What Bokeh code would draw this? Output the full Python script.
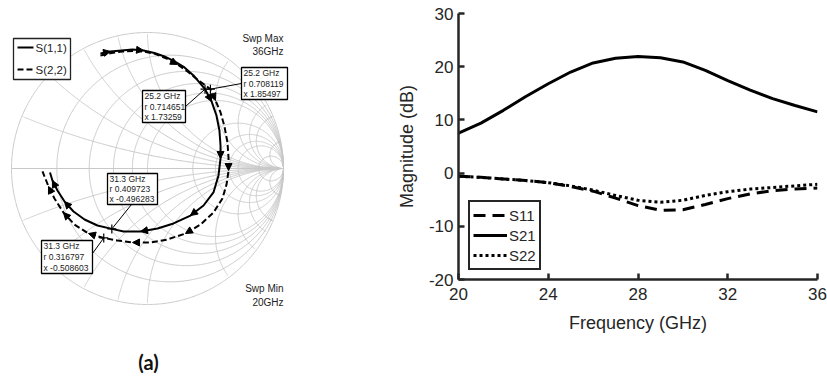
import numpy as np
from bokeh.plotting import figure
from bokeh.layouts import row, column
from bokeh.models import (Range1d, ColumnDataSource, Arrow, NormalHead, Label,
                          Legend, LegendItem, FixedTicker)
from bokeh.core.properties import value
from bokeh.embed import file_html
from bokeh.resources import INLINE

# ---------------- data: Smith chart (reflection coefficient) -------------
s11_freq = [20.0, 20.5, 21.0, 21.5, 22.0, 22.5, 23.0, 23.5, 24.0, 24.6, 25.2,
            25.6, 26.0, 26.4, 26.8, 27.2, 27.7, 28.2, 28.7, 29.2, 29.7, 30.1, 30.5, 30.9, 31.3,
            31.9, 32.6, 33.3, 34.0, 34.7, 35.4, 36.0]
s11_re = [-0.346, -0.272, -0.191, -0.110, -0.029, 0.051, 0.125, 0.199, 0.272, 0.338, 0.423,
          0.471, 0.507, 0.529, 0.537, 0.537, 0.522, 0.485, 0.412, 0.316, 0.191, 0.074, -0.051, -0.176, -0.262,
          -0.368, -0.463, -0.544, -0.610, -0.662, -0.699, -0.717]
s11_im = [0.846, 0.860, 0.868, 0.875, 0.868, 0.849, 0.824, 0.787, 0.743, 0.684, 0.583,
          0.493, 0.390, 0.279, 0.169, 0.074, -0.051, -0.176, -0.272, -0.346, -0.404, -0.441, -0.463, -0.463, -0.444,
          -0.419, -0.375, -0.316, -0.243, -0.162, -0.088, -0.029]

s22_freq = [20.0, 20.5, 21.0, 21.5, 22.0, 22.5, 23.0, 23.5, 24.0, 24.6, 25.2,
            25.6, 26.0, 26.4, 26.7, 27.1, 27.5, 27.9, 28.3, 28.7, 29.0, 29.4, 29.8, 30.2, 30.5, 30.9, 31.3,
            31.9, 32.6, 33.3, 34.0, 34.7, 35.4, 36.0]
s22_re = [-0.346, -0.265, -0.184, -0.103, -0.022, 0.059, 0.140, 0.221, 0.294, 0.368, 0.463,
          0.500, 0.537, 0.566, 0.588, 0.596, 0.596, 0.581, 0.551, 0.485, 0.390, 0.279, 0.147, 0.022, -0.110, -0.221, -0.322,
          -0.434, -0.537, -0.618, -0.684, -0.728, -0.757, -0.772]
s22_im = [0.831, 0.849, 0.860, 0.864, 0.860, 0.842, 0.809, 0.765, 0.713, 0.654, 0.583,
          0.500, 0.412, 0.309, 0.191, 0.074, -0.015, -0.118, -0.221, -0.324, -0.412, -0.478, -0.522, -0.544, -0.544, -0.529, -0.511,
          -0.478, -0.412, -0.324, -0.221, -0.132, -0.059, -0.022]

marker_freq = [25.2, 31.3]
s11_marker_r = [0.714651, 0.409723]
s11_marker_x = [1.73259, -0.496283]
s22_marker_r = [0.708119, 0.316797]
s22_marker_x = [1.85497, -0.508603]

grid_vals = [0.2, 0.4, 0.6, 0.8, 1.0, 2.0, 3.0, 4.0, 5.0, 10.0]

# ---------------- data: magnitude plot ----------------
freq_ghz = [20, 21, 22, 23, 24, 25, 26, 27, 28, 29, 30, 31, 32, 33, 34, 35, 36]
s11_db = [-0.6, -0.8, -1.1, -1.4, -1.8, -2.5, -3.4, -4.7, -6.1, -7.0, -6.9, -5.9, -4.8, -3.9, -3.3, -3.0, -2.8]
s21_db = [7.5, 9.4, 11.8, 14.4, 16.8, 19.0, 20.7, 21.6, 21.9, 21.7, 20.9, 19.3, 17.4, 15.6, 14.0, 12.7, 11.5]
s22_db = [-0.6, -0.8, -1.1, -1.4, -1.8, -2.4, -3.2, -4.2, -5.1, -5.5, -5.1, -4.2, -3.5, -3.0, -2.7, -2.4, -2.1]
x_ticks = [20, 24, 28, 32, 36]
y_ticks = [-20, -10, 0, 10, 20, 30]

FONT = "Liberation Sans"
TXT = "#262626"

# ---------------- panel (a): Smith chart ----------------
CX, CY, R = 147.0, 168.0, 136.0
W1, H = 380, 381


def P(px, py):
    return (px - CX) / R, (CY - py) / R


p1 = figure(width=W1, height=H, x_range=Range1d(-CX / R, (W1 - CX) / R),
            y_range=Range1d((CY - H) / R, CY / R), output_backend="svg",
            toolbar_location=None, x_axis_location=None, y_axis_location=None,
            min_border_left=0, min_border_right=0, min_border_top=0, min_border_bottom=0,
            outline_line_color=None)
p1.grid.grid_line_color = None

gx, gy = [], []
t = np.linspace(0, 2 * np.pi, 721)
for r in [0.0] + grid_vals:
    c = r / (1 + r)
    rad = 1 / (1 + r)
    gx.append(list(c + rad * np.cos(t)))
    gy.append(list(rad * np.sin(t)))
rr = np.concatenate([[0.0], np.logspace(-3, 4, 900)])
for xv in grid_vals:
    for s in (1, -1):
        z = rr + 1j * s * xv
        g = (z - 1) / (z + 1)
        gx.append(list(g.real))
        gy.append(list(g.imag))
gx.append([-1, 1])
gy.append([0, 0])
p1.multi_line(gx, gy, line_color="#c8c8c8", line_width=1)

p1.line(s11_re, s11_im, line_color="black", line_width=2)
p1.line(s22_re, s22_im, line_color="black", line_width=2, line_dash="6 3")


def arrows(re, im, idx):
    src = ColumnDataSource(dict(x0=[re[i - 1] for i in idx], y0=[im[i - 1] for i in idx],
                                x1=[re[i] for i in idx], y1=[im[i] for i in idx]))
    p1.add_layout(Arrow(end=NormalHead(size=7, fill_color="black", line_color="black", line_width=1),
                        x_start="x0", y_start="y0", x_end="x1", y_end="y1",
                        source=src, line_alpha=0))


arrows(s11_re, s11_im, [1, 4, 11, 15, 19, 22, 28, 30])
arrows(s22_re, s22_im, [7, 11, 16, 21, 24, 27, 29, 31])


def gamma(r, x):
    z = complex(r, x)
    g = (z - 1) / (z + 1)
    return g.real, g.imag


# data tips: (freq, r, x, box in page px, leader anchor)
tips = [
    (marker_freq[0], s11_marker_r[0], s11_marker_x[0], (142, 90, 185, 122), (185, 106)),
    (marker_freq[0], s22_marker_r[0], s22_marker_x[0], (241, 67, 287, 99), (241, 83)),
    (marker_freq[1], s11_marker_r[1], s11_marker_x[1], (107, 173, 157, 204), (131, 204)),
    (marker_freq[1], s22_marker_r[1], s22_marker_x[1], (41, 240, 92, 273), (92, 253)),
]
mx, my = [], []
for f, r, x, box, anc in tips:
    g = gamma(r, x)
    mx.append(g[0])
    my.append(g[1])
    ax, ay = P(*anc)
    p1.segment(x0=[ax], y0=[ay], x1=[g[0]], y1=[g[1]], line_color="black", line_width=1)
    l, tp = P(box[0], box[1])
    rt, bt = P(box[2], box[3])
    p1.quad(left=[l], right=[rt], top=[tp], bottom=[bt], fill_color="white",
            line_color="black", line_width=1.3)
    lines = [f"{f} GHz", f"r {r}", f"x {x}"]
    hgt = box[3] - box[1]
    tx = [P(box[0] + 2, 0)[0]] * 3
    ty = [P(0, box[1] + hgt * (k + 0.5) / 3)[1] for k in range(3)]
    p1.text(tx, ty, text=lines, text_font=value(FONT), text_font_size="8.5px",
            text_baseline="middle", text_align="left", text_color="#222222")
p1.scatter(mx, my, marker="cross", size=9, line_color="black", line_width=1.2)

# legend (a)
l, tp = P(13, 38)
rt, bt = P(70, 79)
p1.quad(left=[l], right=[rt], top=[tp], bottom=[bt], fill_color="white", line_color="#222222", line_width=1.3)
a0, ya = P(17, 47)
a1, _ = P(33, 47)
_, yb = P(17, 69)
p1.line([a0, a1], [ya, ya], line_color="black", line_width=2)
p1.line([a0, a1], [yb, yb], line_color="black", line_width=2, line_dash="6 3")
p1.text([P(35, 0)[0]] * 2, [ya, yb], text=["S(1,1)", "S(2,2)"], text_font=value(FONT),
        text_font_size="11.5px", text_baseline="middle", text_color="#222222")

# sweep labels
sx = P(283, 0)[0]
p1.text([sx] * 4, [P(0, 38)[1], P(0, 51)[1], P(0, 288)[1], P(0, 302)[1]],
        text=["Swp Max", "36GHz", "Swp Min", "20GHz"], text_font=value(FONT),
        text_font_size="10px", text_align="right", text_baseline="middle", text_color="#222222")

la, lb = P(148, 361)
p1.add_layout(Label(x=la, y=lb, text="(a)", text_align="center", text_baseline="middle",
                    text_font="Lato", text_font_style="bold", text_font_size="20px",
                    text_color="#111111"))

# ---------------- panel (b): magnitude ----------------
p2 = figure(width=447, height=H, x_range=Range1d(20, 36), y_range=Range1d(-20, 30),
            output_backend="svg", toolbar_location=None,
            min_border_left=78, min_border_right=10, min_border_top=13, min_border_bottom=102,
            outline_line_color=None)
p2.grid.grid_line_color = None

r11 = p2.line(freq_ghz, s11_db, line_color="black", line_width=3, line_dash="12 7")
r21 = p2.line(freq_ghz, s21_db, line_color="black", line_width=3)
r22 = p2.line(freq_ghz, s22_db, line_color="black", line_width=3, line_dash="3 3")

for ax_, ticks in ((p2.xaxis[0], x_ticks), (p2.yaxis[0], y_ticks)):
    ax_.ticker = FixedTicker(ticks=ticks)
    ax_.axis_line_width = 2.5
    ax_.axis_line_color = TXT
    ax_.major_tick_in = 6
    ax_.major_tick_out = 0
    ax_.major_tick_line_width = 2.5
    ax_.major_tick_line_color = TXT
    ax_.minor_tick_line_color = None
    ax_.major_label_text_font = FONT
    ax_.major_label_text_font_size = "17px"
    ax_.major_label_text_color = TXT
    ax_.axis_label_text_font = FONT
    ax_.axis_label_text_font_size = "18px"
    ax_.axis_label_text_font_style = "normal"
    ax_.axis_label_text_color = TXT

p2.xaxis.axis_label = "Frequency (GHz)"
p2.yaxis.axis_label = "Magnitude (dB)"
p2.xaxis.major_label_standoff = 8
p2.xaxis.axis_label_standoff = 10
p2.yaxis.major_label_standoff = 5
p2.yaxis.axis_label_standoff = 9
p2.yaxis.major_label_overrides = {v: str(v) for v in y_ticks}

leg = Legend(items=[LegendItem(label="S11", renderers=[r11]),
                    LegendItem(label="S21", renderers=[r21]),
                    LegendItem(label="S22", renderers=[r22])],
             location=(10, 9), border_line_width=2.5, border_line_color=TXT, border_line_alpha=1.0,
             label_text_font=FONT, label_text_font_size="15px", label_text_color=TXT,
             glyph_width=34, glyph_height=20, label_height=20, spacing=0, padding=3,
             margin=0, label_standoff=2, background_fill_alpha=1.0)
p2.add_layout(leg, "center")

p2.add_layout(Label(x=27.8, y=-35.4, text="(b)", text_align="center", text_baseline="middle",
                    text_font="Lato", text_font_style="bold", text_font_size="20px",
                    text_color="#111111"))

layout = row(column(p1), column(p2))
open("out.html", "w").write(file_html(layout, INLINE))
